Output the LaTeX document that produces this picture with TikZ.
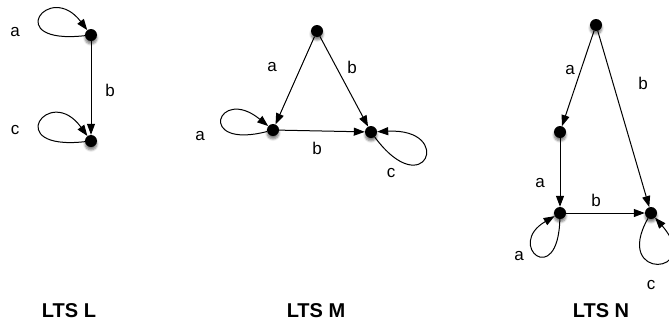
\documentclass[tikz,border=0pt]{standalone}
\usepackage{fontspec}
\setmainfont{Liberation Sans}
\usetikzlibrary{arrows.meta,calc,shadows.blur}

\begin{document}
\begin{tikzpicture}[x=1pt,y=-1pt,
	stnode/.style={circle,fill=black,inner sep=0pt,minimum size=12pt,
		blur shadow={shadow xshift=0pt,shadow yshift=-3pt,shadow opacity=50,shadow blur steps=6}},
	lbl/.style={font=\fontsize{17}{20}\selectfont,inner sep=0pt},
	ltstitle/.style={font=\fontsize{20}{23}\selectfont\bfseries,inner sep=0pt},
	trans/.style={line width=1pt,-{Triangle[length=11pt,width=8pt]}}]
	\useasboundingbox (0,0) rectangle (669,327);
	
	% LTS L
	\node [stnode] (l1) at (91,35) {};
	\node [stnode] (l2) at (91,141) {};
	\draw [trans] (l1) -- (l2);
	\draw [trans] (l1) .. controls ($(l1)+(-90,10)$) and ($(l1)+(-42,-55)$) .. (l1);
	\draw [trans] (l2) .. controls ($(l2)+(-90,10)$) and ($(l2)+(-42,-58)$) .. (l2);
	% Text Node
	\node [lbl] (la) at (15,32) {a};
	\node [lbl] (lb) at (110,90) {b};
	\node [lbl] (lc) at (15,130) {c};
	\node [ltstitle] (ltsl) at (69,311) {LTS L};
	
	% LTS M
	\node [stnode] (m1) at (317,31) {};
	\node [stnode] (m2) at (273,130) {};
	\node [stnode] (m3) at (371,132) {};
	\draw [trans] (m1) -- (m2);
	\draw [trans] (m1) -- (m3);
	\draw [trans] (m2) -- (m3);
	\draw [trans] (m2) .. controls (195,150) and (218,85) .. (m2);
	\draw [trans] (m3) .. controls (425,205) and (455,128) .. (m3);
	% Text Node
	\node [lbl] (ma1) at (272,67) {a};
	\node [lbl] (mb1) at (352,67) {b};
	\node [lbl] (ma2) at (200,136) {a};
	\node [lbl] (mb2) at (317,148) {b};
	\node [lbl] (mc) at (391,173) {c};
	\node [ltstitle] (ltsm) at (316,311) {LTS M};
	
	% LTS N
	\node [stnode] (n1) at (596,25) {};
	\node [stnode] (n2) at (560,132) {};
	\node [stnode] (n3) at (560,213) {};
	\node [stnode] (n4) at (651,213) {};
	\draw [trans] (n1) -- (n2);
	\draw [trans] (n1) -- (n4);
	\draw [trans] (n2) -- (n3);
	\draw [trans] (n3) -- (n4);
	\draw [trans] (n3) .. controls (558,290) and (505,245) .. (n3);
	\draw [trans] (n4) .. controls (612,282) and (705,275) .. (n4);
	% Text Node
	\node [lbl] (na1) at (570,70) {a};
	\node [lbl] (nb1) at (643,83) {b};
	\node [lbl] (na2) at (540,183) {a};
	\node [lbl] (nb2) at (596,200) {b};
	\node [lbl] (na3) at (519,256) {a};
	\node [lbl] (nc) at (651,285) {c};
	\node [ltstitle] (ltsn) at (601,311) {LTS N};
	
\end{tikzpicture}
\end{document}
